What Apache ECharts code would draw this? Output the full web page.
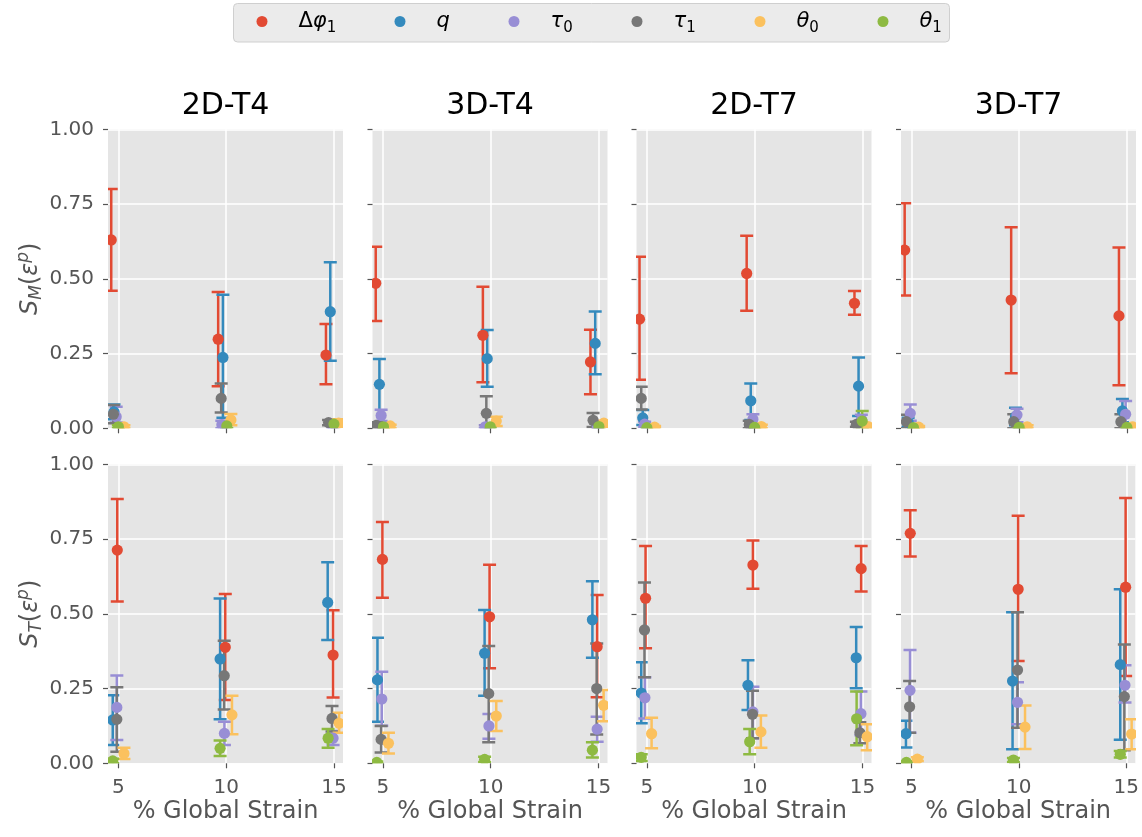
<!DOCTYPE html>
<html><head><meta charset="utf-8">
<script src="https://cdn.jsdelivr.net/npm/echarts@6/dist/echarts.min.js"></script>
<style>html,body{margin:0;padding:0;background:#fff}#c{width:1142px;height:837px}</style>
</head><body><div id="c"></div>
<script>
// ---------- data ----------
const panelTitles = ['2D-T4', '3D-T4', '2D-T7', '3D-T7'];
const seriesNames = ['Δφ1', 'q', 'τ0', 'τ1', 'θ0', 'θ1'];
const xTicks = [5, 10, 15];
const yTicks = [0, 0.25, 0.5, 0.75, 1.0];
// each point: [x (jittered % strain), mean, lower, upper]; one block of 3 points per panel
const SM_dphi = [
  [[4.67,.63,.46,.80],[9.63,.298,.141,.456],[14.63,.245,.147,.349]],
  [[4.67,.485,.359,.607],[9.64,.311,.154,.473],[14.63,.222,.114,.33]],
  [[4.66,.365,.162,.574],[9.63,.518,.393,.644],[14.63,.418,.38,.459]],
  [[4.69,.596,.444,.753],[9.63,.429,.184,.672],[14.63,.376,.144,.605]]
];
const SM_q = [
  [[4.8,.055,.03,.08],[9.85,.237,.035,.447],[14.83,.39,.226,.555]],
  [[4.84,.147,.005,.232],[9.84,.233,.139,.329],[14.85,.284,.181,.391]],
  [[4.81,.035,.011,.061],[9.82,.092,.028,.15],[14.82,.141,.041,.237]],
  [[4.85,.02,.005,.035],[9.83,.039,.01,.069],[14.79,.058,.02,.098]]
];
const SM_tau0 = [
  [[4.9,.039,.019,.072],[9.8,.012,0,.025],[14.95,.005,0,.012]],
  [[4.92,.043,.024,.062],[9.75,.005,0,.01],[14.95,.005,0,.01]],
  [[4.9,.014,.005,.022],[9.92,.03,.015,.047],[14.95,.03,.015,.045]],
  [[4.95,.05,.025,.08],[9.9,.045,.02,.065],[14.94,.047,.015,.091]]
];
const SM_tau1 = [
  [[4.77,.047,.017,.078],[9.77,.10,.053,.15],[14.75,.019,.01,.028]],
  [[4.7,.01,0,.02],[9.8,.05,.01,.107],[14.75,.027,.004,.051]],
  [[4.74,.10,.063,.139],[9.75,.013,0,.025],[14.72,.013,.005,.022]],
  [[4.77,.022,0,.045],[9.75,.022,0,.047],[14.72,.022,0,.047]]
];
const SM_theta0 = [
  [[5.26,.005,0,.01],[10.22,.028,.01,.048],[15.22,.017,.005,.03]],
  [[5.34,.008,0,.012],[10.26,.024,.008,.039],[15.25,.017,.005,.025]],
  [[5.36,.004,0,.008],[10.31,.006,0,.012],[15.26,.006,0,.012]],
  [[5.34,.004,0,.008],[10.37,.005,0,.01],[15.25,.005,0,.01]]
];
const SM_theta1 = [
  [[5.0,.005,0,.01],[10.03,.008,0,.015],[15.0,.014,.005,.02]],
  [[5.03,.005,0,.008],[9.98,.005,0,.008],[15.02,.006,0,.01]],
  [[5.0,.002,0,.005],[10.0,.003,0,.006],[14.99,.024,0,.058]],
  [[5.1,.002,0,.004],[10.0,.003,0,.005],[15.0,.003,0,.006]]
];
const ST_dphi = [
  [[4.95,.713,.541,.884],[9.96,.388,.212,.566],[14.96,.362,.22,.512]],
  [[4.98,.682,.554,.807],[9.95,.49,.318,.664],[14.94,.39,.221,.563]],
  [[4.94,.552,.385,.727],[9.92,.663,.584,.745],[14.94,.651,.575,.727]],
  [[4.95,.769,.692,.846],[9.97,.582,.342,.828],[14.97,.589,.292,.887]]
];
const ST_q = [
  [[4.74,.145,.061,.228],[9.72,.349,.147,.551],[14.71,.538,.412,.672]],
  [[4.75,.279,.139,.42],[9.72,.368,.226,.513],[14.72,.48,.353,.609]],
  [[4.74,.235,.134,.338],[9.69,.261,.178,.345],[14.71,.353,.251,.456]],
  [[4.75,.099,.053,.142],[9.71,.275,.047,.505],[14.72,.33,.079,.582]]
];
const ST_tau0 = [
  [[4.93,.187,.078,.294],[9.92,.10,.061,.139],[14.96,.084,.061,.108]],
  [[4.95,.215,.126,.306],[9.92,.125,.082,.165],[14.94,.114,.072,.156]],
  [[4.91,.219,.15,.288],[9.92,.172,.084,.256],[14.93,.166,.094,.24]],
  [[4.94,.244,.102,.379],[9.94,.204,.131,.271],[14.94,.261,.203,.328]]
];
const ST_tau1 = [
  [[4.93,.147,.039,.254],[9.91,.293,.18,.41],[14.91,.15,.106,.192]],
  [[4.92,.08,.036,.125],[9.91,.233,.07,.392],[14.92,.25,.096,.401]],
  [[4.89,.446,.288,.605],[9.9,.164,.084,.243],[14.88,.102,.067,.137]],
  [[4.92,.189,.102,.275],[9.94,.312,.119,.505],[14.91,.223,.044,.397]]
];
const ST_theta0 = [
  [[5.26,.033,.014,.052],[10.27,.162,.097,.226],[15.24,.134,.102,.169]],
  [[5.26,.067,.033,.102],[10.26,.158,.108,.208],[15.24,.194,.141,.245]],
  [[5.22,.099,.05,.152],[10.29,.105,.052,.16],[15.22,.089,.044,.131]],
  [[5.28,.014,.008,.02],[10.29,.121,.048,.193],[15.25,.098,.047,.147]]
];
const ST_theta1 = [
  [[4.74,.008,0,.015],[9.72,.05,.024,.076],[14.73,.084,.052,.115]],
  [[4.72,.003,0,.006],[9.72,.013,.004,.022],[14.72,.044,.019,.07]],
  [[4.74,.02,.008,.03],[9.77,.072,.03,.115],[14.73,.149,.06,.24]],
  [[4.77,.003,0,.006],[9.75,.011,.004,.018],[14.72,.03,.019,.041]]
];
// ---------- styling / layout ----------
const rowsData = [
  [SM_dphi, SM_q, SM_tau0, SM_tau1, SM_theta0, SM_theta1],
  [ST_dphi, ST_q, ST_tau0, ST_tau1, ST_theta0, ST_theta1]
];
const colors = ['#E24A33', '#348ABD', '#988ED5', '#777777', '#FBC15E', '#8EBA42'];
const FONT = 'DejaVu Sans';
const gridLefts = [108, 372.5, 636.5, 901];
const gridTops = [129.3, 464.3];
const GW = 235, GH = 299;
const X_MIN = 4.52, X_MAX = 15.42;

const legendRich = {
  u: {fontFamily: FONT, fontSize: 21, color: '#000', lineHeight: 28},
  i: {fontFamily: FONT, fontSize: 21, fontStyle: 'italic', color: '#000', lineHeight: 28},
  s: {fontFamily: FONT, fontSize: 15, color: '#000', lineHeight: 12, verticalAlign: 'bottom'}
};
const legendFmt = {
  'Δφ1': '{u|Δ}{i|φ}{s|1}', 'q': '{i|q}', 'τ0': '{i|τ}{s|0}', 'τ1': '{i|τ}{s|1}',
  'θ0': '{i|θ}{s|0}', 'θ1': '{i|θ}{s|1}'
};
const legendMarkerX = [262, 400, 514, 637, 760, 883];
const LEG_ICON = 11;

const nameRich = {
  i: {fontFamily: FONT, fontSize: 24, fontStyle: 'italic', color: '#555', lineHeight: 30},
  u: {fontFamily: FONT, fontSize: 24, color: '#555', lineHeight: 30},
  sb: {fontFamily: FONT, fontSize: 17, fontStyle: 'italic', color: '#555', lineHeight: 14, verticalAlign: 'bottom'},
  sp: {fontFamily: FONT, fontSize: 17, fontStyle: 'italic', color: '#555', lineHeight: 14, verticalAlign: 'top'}
};
const yNames = ['{i|S}{sb|M}{u|(}{i|ε}{sp|p}{u|)}', '{i|S}{sb|T}{u|(}{i|ε}{sp|p}{u|)}'];

function renderBar(params, api) {
  const x = api.value(0), lo = api.value(2), hi = api.value(3);
  const a = api.coord([x, lo]), b = api.coord([x, hi]);
  const col = api.visual('color');
  const st = {stroke: col, lineWidth: 2.5};
  const cw = 6.5;
  return {type: 'group', children: [
    {type: 'line', shape: {x1: a[0], y1: a[1], x2: b[0], y2: b[1]}, style: st},
    {type: 'line', shape: {x1: a[0] - cw, y1: a[1], x2: a[0] + cw, y2: a[1]}, style: st},
    {type: 'line', shape: {x1: b[0] - cw, y1: b[1], x2: b[0] + cw, y2: b[1]}, style: st}
  ]};
}
function renderMarker(params, api) {
  const p = api.coord([api.value(0), api.value(1)]);
  return {type: 'circle', shape: {cx: p[0], cy: p[1], r: 5.6}, style: {fill: api.visual('color')}};
}

const grids = [], xAxes = [], yAxes = [], series = [];
for (let r = 0; r < 2; r++) {
  for (let c = 0; c < 4; c++) {
    const gi = r * 4 + c;
    grids.push({left: gridLefts[c], top: gridTops[r], width: GW, height: GH, show: true,
      backgroundColor: '#E5E5E5', borderWidth: 0, containLabel: false});
    xAxes.push({type: 'value', gridIndex: gi, min: X_MIN, max: X_MAX,
      axisLine: {show: false},
      axisTick: {show: true, customValues: xTicks, length: 5, lineStyle: {color: '#555', width: 1.2}},
      axisLabel: {show: r === 1, customValues: xTicks, margin: 14, fontFamily: FONT, fontSize: 20, color: '#555'},
      splitLine: {show: true, lineStyle: {color: '#fff', width: 1.5}},
      name: r === 1 ? '% Global Strain' : '', nameLocation: 'middle', nameGap: 36,
      nameTextStyle: {fontFamily: FONT, fontSize: 24, color: '#555'}
    });
    yAxes.push({type: 'value', gridIndex: gi, min: 0, max: 1, interval: 0.25,
      axisLine: {show: false},
      axisTick: {show: true, length: 5, lineStyle: {color: '#555', width: 1.2}},
      axisLabel: {show: c === 0, margin: 14, fontFamily: FONT, fontSize: 20, color: '#555',
        formatter: v => v.toFixed(2)},
      splitLine: {show: true, lineStyle: {color: '#fff', width: 1.5}},
      name: c === 0 ? yNames[r] : '', nameLocation: 'middle', nameGap: 62,
      nameTextStyle: {rich: nameRich}
    });
    for (let s = 0; s < 6; s++) {
      const data = rowsData[r][s][c];
      series.push({type: 'custom', name: seriesNames[s], xAxisIndex: gi, yAxisIndex: gi,
        clip: true, z: 2, silent: true, itemStyle: {color: colors[s]},
        encode: {x: 0, y: 1}, data: data, renderItem: renderBar});
      series.push({type: 'custom', name: seriesNames[s], xAxisIndex: gi, yAxisIndex: gi,
        clip: true, z: 3, silent: true, itemStyle: {color: colors[s]},
        encode: {x: 0, y: 1}, data: data, renderItem: renderMarker});
    }
  }
}

const legends = seriesNames.map((n, i) => ({
  data: [n], left: legendMarkerX[i] - LEG_ICON / 2, top: 11, icon: 'circle',
  itemWidth: LEG_ICON, itemHeight: LEG_ICON, itemGap: 0, padding: 0,
  formatter: name => legendFmt[name],
  textStyle: {rich: legendRich, padding: [0, 0, 0, 42 - LEG_ICON / 2 - 5 - LEG_ICON / 2]}
}));

const graphics = [
  {type: 'rect', shape: {x: 233.5, y: 3.5, width: 716, height: 38.5, r: 4}, z: -1,
   style: {fill: '#EBEBEB', stroke: '#CFCFCF', lineWidth: 1}}
];
panelTitles.forEach((t, c) => {
  graphics.push({type: 'text', x: gridLefts[c] + GW / 2, y: 106,
    style: {text: t, fontFamily: FONT, fontSize: 30, fill: '#000', textAlign: 'center', textVerticalAlign: 'middle'}});
});

const chart = echarts.init(document.getElementById('c'), null, {renderer: 'canvas'});
chart.setOption({
  animation: false,
  backgroundColor: '#fff',
  grid: grids, xAxis: xAxes, yAxis: yAxes, series: series,
  legend: legends, graphic: graphics
});
</script></body></html>
